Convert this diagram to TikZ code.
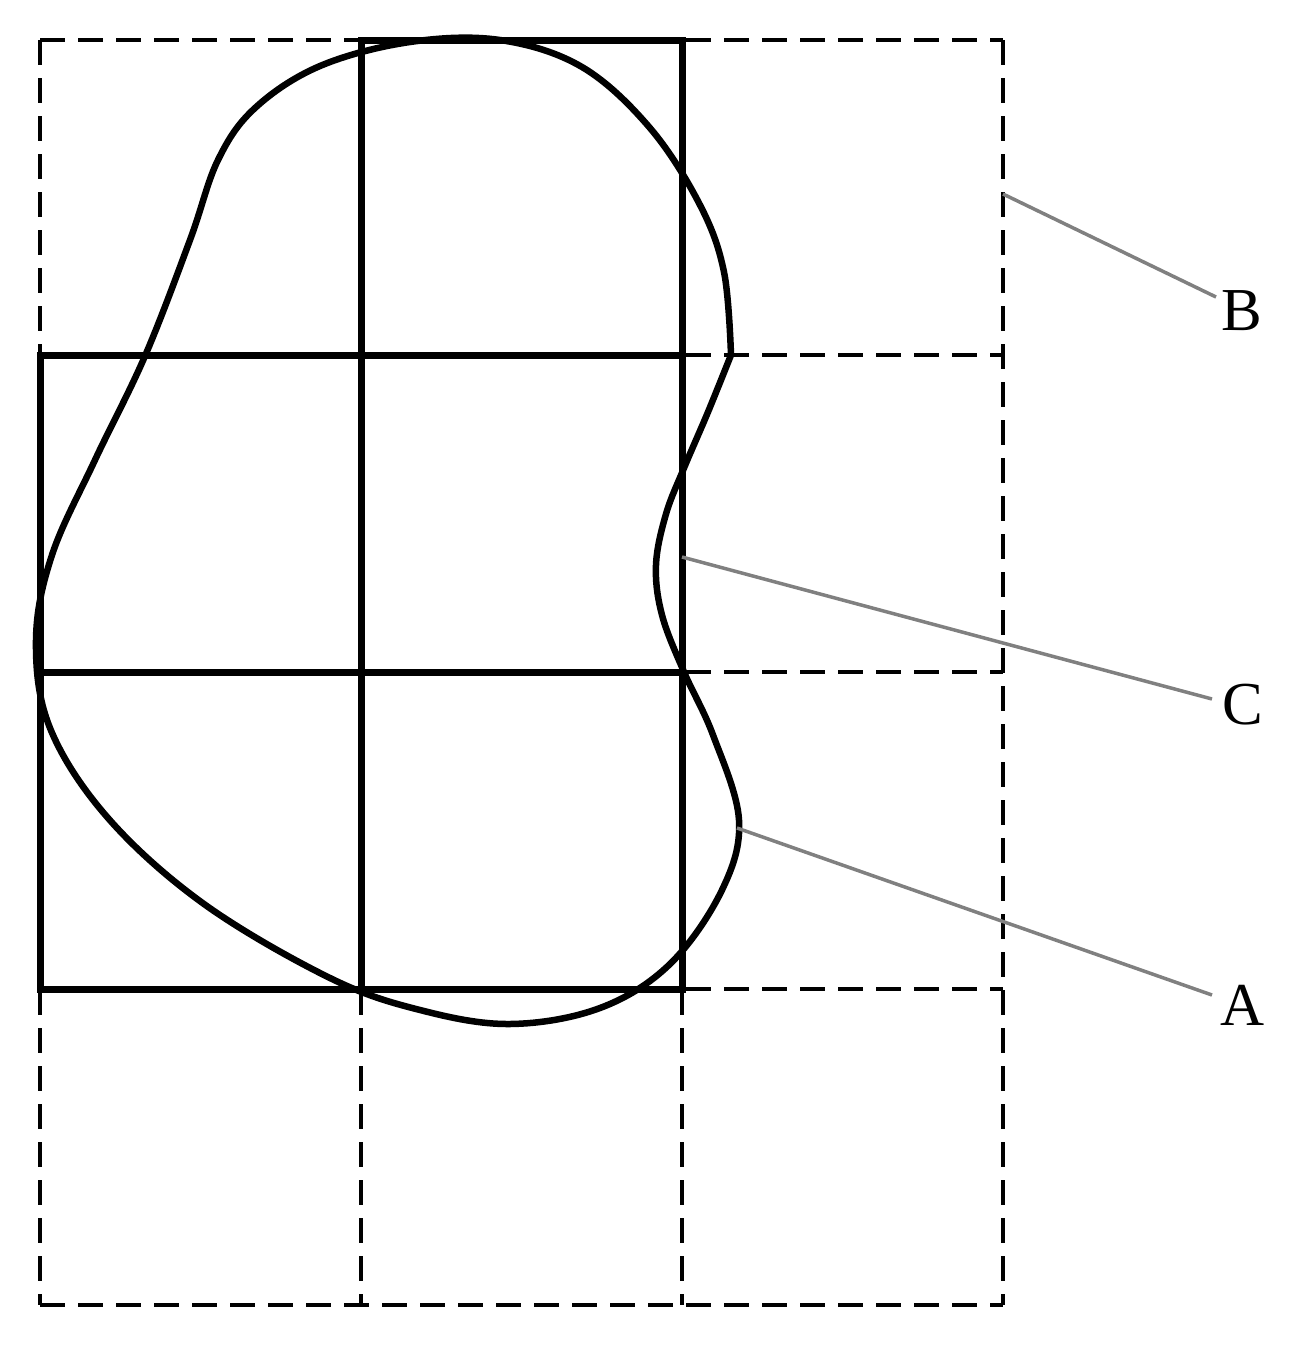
\documentclass[tikz,border=0pt]{standalone}
\usepackage{fontspec}
\setmainfont{Liberation Serif}
\begin{document}
\begin{tikzpicture}[x=1pt,y=-1pt,
  gridline/.style={line width=4pt,dash pattern=on 25pt off 13pt},
  cellline/.style={line width=7pt,line cap=rect},
  blobline/.style={line width=6.5pt,line join=round},
  leader/.style={line width=3.5pt,draw={rgb,255:red,128;green,128;blue,128}},
  lab/.style={anchor=base,inner sep=0pt,font=\fontsize{61}{70}\selectfont}]
\useasboundingbox (0,0) rectangle (1304,1345);
% dashed grid
\foreach \x in {40,361,682,1003} \draw[gridline] (\x,40) -- (\x,1305);
\foreach \y in {40,355,672,989,1305} \draw[gridline] (40,\y) -- (1003,\y);
% solid cells
\draw[cellline] (361,989) -- (361,40) -- (682,40) -- (682,989);
\draw[cellline] (40,355) -- (40,989);
\draw[cellline] (40,355) -- (682,355);
\draw[cellline] (40,672) -- (682,672);
\draw[cellline] (40,989) -- (682,989);
% blob
\draw[blobline] plot[smooth,tension=0.6] coordinates {
 (731,355) (724,272) (700,205) (650,128) (582,67) (500,40)
 (410,42) (320,66) (255,108) (218,160) (190,240) (145,356)
 (95,460) (52,555) (36,640) (50,728) (108,818) (204,904)
 (330,978) (420,1010) (510,1024) (600,1008) (670,964) (722,890)
 (739,820) (713,735) (684,672) (662,615) (656,565) (666,514)
 (684,468) (708,412) (731,355)};
% labels and leaders
\node[lab] (B) at (1242,330) {B};
\node[lab] (C) at (1243,724) {C};
\node[lab] (A) at (1243,1025) {A};
\coordinate (bS) at (1003,194); \coordinate (bE) at (1216,297);
\coordinate (cS) at (682,557);  \coordinate (cE) at (1212,699);
\coordinate (aS) at (737,828);  \coordinate (aE) at (1212,995);
\draw[leader] (bS) -- (bE);
\draw[leader] (cS) -- (cE);
\draw[leader] (aS) -- (aE);
\end{tikzpicture}
\end{document}
